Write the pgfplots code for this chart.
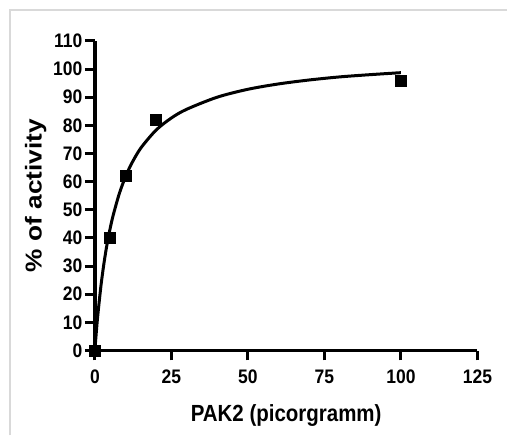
\documentclass[border=0pt]{standalone}
\usepackage{pgfplots}
\pgfplotsset{compat=1.18}
\usepackage{fontspec}
\setmainfont{Liberation Sans}

\begin{document}
\begin{tikzpicture}
\begin{axis}[
    scale only axis,
    width=383pt, height=310pt,
    xmin=0, xmax=125, ymin=0, ymax=110,
    axis x line*=bottom, axis y line*=left,
    axis line style={line width=4pt, -},
    xtick={0,25,...,125},
    ytick={0,10,...,110},
    tick align=outside,
    major tick length=10pt,
    tick style={line width=3pt, black},
    /pgf/number format/assume math mode=true,
    ticklabel style={font=\fontsize{17.5}{19}\selectfont\bfseries},
    xticklabel={\scalebox{1}[1.12]{\pgfmathprintnumber{\tick}}},
    yticklabel={\scalebox{1}[1.12]{\pgfmathprintnumber{\tick}}},
    xticklabel style={yshift=-6pt},
    yticklabel style={xshift=1pt},
    xlabel={\scalebox{1}[1.14]{PAK2 (picorgramm)}},
    ylabel={\scalebox{1.14}[1]{\% of activity}},
    xlabel style={font=\fontsize{20.5}{22}\selectfont\bfseries, yshift=-14pt},
    ylabel style={font=\fontsize{23}{25}\selectfont\bfseries, yshift=0pt},
    clip=false,
]
% page extent and the light frame of the reference
\path (rel axis cs:-0.248,1.132) rectangle (rel axis cs:1.078,-0.274);
\draw[black!15, line width=1.5pt] (rel axis cs:-0.222,-0.274) -- (rel axis cs:-0.222,1.1) -- (rel axis cs:1.078,1.1);

% fitted hyperbola, values
\addplot[black, line width=3pt, smooth] coordinates {
  (0,0) (0.5,6.9) (1,13.0) (2,23.1) (3,31.2) (4,37.9) (5,43.4) (6,48.1)
  (8,55.8) (10,61.7) (12,66.4) (15,71.9) (20,78.3) (25,82.6) (30,85.7)
  (40,90.0) (50,92.8) (60,94.7) (70,96.1) (80,97.2) (90,98.0) (100,98.7)
};

% measured points
\addplot[only marks, mark=square*, mark size=5.5pt, black] coordinates {
  (0,0) (5,40) (10,62) (20,82) (100,96)
};
\end{axis}
\end{tikzpicture}
\end{document}
